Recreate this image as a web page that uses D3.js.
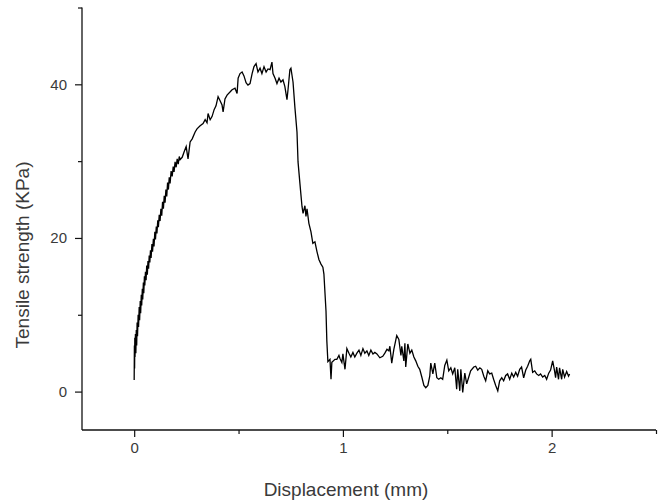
<!DOCTYPE html>
<html>
<head>
<meta charset="utf-8">
<script src="https://cdn.jsdelivr.net/npm/d3@7"></script>
<style>
  body { margin: 0; background: #fff; }
  svg { display: block; }
</style>
</head>
<body>
<svg></svg>
<script>
// displacement (mm) and tensile strength (KPa)
const displacement = [
  0.000, 0.001, 0.002, 0.003, 0.004, 0.006, 0.008, 0.010, 0.012, 0.014,
  0.016, 0.019, 0.021, 0.024, 0.026, 0.029, 0.031, 0.034, 0.036, 0.039,
  0.041, 0.044, 0.046, 0.049, 0.051, 0.054, 0.057, 0.060, 0.063, 0.066,
  0.069, 0.072, 0.075, 0.078, 0.081, 0.085, 0.088, 0.092, 0.095, 0.099,
  0.102, 0.106, 0.109, 0.113, 0.116, 0.120, 0.124, 0.128, 0.132, 0.136,
  0.140, 0.144, 0.148, 0.152, 0.156, 0.160, 0.164, 0.168, 0.172, 0.177,
  0.182, 0.187, 0.191, 0.196, 0.201, 0.206, 0.211, 0.216, 0.220,
  0.230, 0.239, 0.249,
  0.258, 0.268, 0.278, 0.292, 0.301, 0.316, 0.330, 0.340, 0.349, 0.354,
  0.364, 0.373, 0.383, 0.392, 0.402, 0.411, 0.421, 0.426, 0.435, 0.445,
  0.459, 0.469, 0.483, 0.493, 0.498, 0.507, 0.517, 0.526, 0.536, 0.545,
  0.555, 0.565, 0.574, 0.584, 0.593, 0.603, 0.612, 0.622, 0.632, 0.641,
  0.651, 0.660, 0.665, 0.675, 0.684, 0.694, 0.703, 0.713, 0.722, 0.732,
  0.737, 0.746, 0.751, 0.761, 0.770, 0.780, 0.785, 0.794, 0.804, 0.809,
  0.818, 0.823, 0.828, 0.837, 0.847, 0.856, 0.866, 0.876, 0.885, 0.895,
  0.904, 0.909, 0.919, 0.923, 0.928, 0.938, 0.943, 0.947, 0.962, 0.971,
  0.981, 0.986, 0.995, 1.000, 1.010, 1.019, 1.029, 1.038, 1.048, 1.057,
  1.067, 1.077, 1.086, 1.096, 1.105, 1.115, 1.124, 1.134, 1.144, 1.153,
  1.163, 1.177, 1.191, 1.201, 1.211, 1.220, 1.225, 1.234, 1.244, 1.254,
  1.258, 1.268, 1.278, 1.282, 1.292, 1.297, 1.301, 1.311, 1.321, 1.330,
  1.340, 1.349, 1.359, 1.368, 1.378, 1.388, 1.397, 1.407, 1.416, 1.421,
  1.431, 1.440, 1.450, 1.459, 1.469, 1.478, 1.488, 1.498, 1.507, 1.517,
  1.526, 1.536, 1.545, 1.550, 1.560, 1.565, 1.574, 1.584, 1.593, 1.603,
  1.612, 1.627, 1.636, 1.646, 1.656, 1.665, 1.675, 1.684, 1.694, 1.703,
  1.713, 1.722, 1.732, 1.742, 1.751, 1.761, 1.770, 1.780, 1.789, 1.799,
  1.809, 1.818, 1.828, 1.837, 1.847, 1.856, 1.866, 1.876, 1.885, 1.895,
  1.900, 1.909, 1.919, 1.928, 1.938, 1.947, 1.957, 1.967, 1.976, 1.986,
  1.995, 2.005, 2.014, 2.019, 2.024, 2.033, 2.038, 2.048, 2.053, 2.062,
  2.072, 2.081, 2.086
];
const strength = [
  1.5, 6.0, 3.0, 7.0, 4.5, 7.5, 5.0, 8.0, 6.0, 9.0,
  7.2, 10.0, 8.4, 11.0, 9.3, 11.8, 10.2, 12.6, 11.2, 13.4,
  12.0, 14.2, 12.8, 15.0, 13.8, 15.6, 14.5, 16.4, 15.2, 17.0,
  16.0, 17.7, 16.8, 18.4, 17.4, 19.2, 18.2, 19.9, 18.9, 20.8,
  19.8, 21.5, 20.6, 22.3, 21.4, 23.0, 22.2, 23.8, 22.9, 24.7,
  23.8, 25.5, 24.6, 26.3, 25.4, 27.2, 26.3, 27.9, 27.1, 28.7,
  28.0, 29.3, 28.6, 29.9, 29.2, 30.3, 29.6, 30.6, 30.2,
  30.5, 31.2, 31.9,
  30.3, 32.5, 32.9, 33.8, 34.2, 34.6, 34.9, 35.4, 35.0, 36.2,
  35.4, 35.8, 36.7, 37.2, 38.4, 37.9, 37.3, 36.4, 38.1, 38.6,
  39.0, 39.3, 39.5, 38.8, 40.8, 41.4, 41.6, 41.1, 40.2, 39.9,
  40.1, 41.4, 42.3, 42.7, 41.6, 42.1, 41.4, 42.3, 41.6, 42.0,
  41.9, 42.9, 41.4, 40.8, 40.1, 40.8, 40.3, 40.6, 39.7, 38.0,
  39.3, 41.9, 42.1, 40.3, 37.0, 33.8, 29.9, 27.1, 24.1, 23.2,
  24.2, 22.8, 23.8, 21.9, 20.8, 19.3, 19.5, 18.2, 17.2, 16.6,
  16.2, 15.3, 10.5, 6.6, 3.9, 4.2, 1.6, 3.8, 4.2, 4.2,
  4.7, 4.3, 3.8, 4.9, 2.9, 5.6, 5.0, 4.5, 5.1, 4.5,
  5.0, 5.4, 4.7, 5.6, 5.0, 5.3, 4.7, 5.4, 4.9, 5.1,
  4.9, 4.4, 4.6, 5.0, 5.5, 5.3, 5.9, 3.7, 5.5, 6.8,
  7.3, 6.8, 4.7, 5.9, 4.0, 6.3, 3.2, 6.2, 5.0, 5.4,
  4.5, 4.0, 3.3, 2.9, 1.9, 0.8, 0.5, 0.8, 2.0, 3.7,
  2.3, 3.7, 1.8, 1.6, 1.8, 1.6, 3.4, 4.1, 2.7, 3.1,
  2.3, 3.1, 0.3, 2.9, 0.1, 2.9, -0.1, 2.4, 1.0, 1.9,
  2.7, 3.2, 3.3, 2.8, 3.1, 2.9, 2.0, 1.4, 2.7, 2.3,
  2.4, 1.6, 0.8, 0.1, 1.4, 1.8, 1.4, 2.1, 2.3, 1.6,
  2.4, 1.9, 2.5, 2.0, 2.9, 3.2, 1.8, 2.8, 3.3, 4.0,
  4.2, 2.5, 2.7, 2.3, 2.1, 2.3, 1.9, 2.1, 1.6, 2.4,
  2.8, 4.0, 2.7, 1.8, 3.2, 1.6, 3.1, 1.6, 2.9, 1.9,
  2.6, 2.0, 2.3
];

const xMajorTicks = [0, 1, 2];
const xMinorTicks = [0.5, 1.5, 2.5];
const yMajorTicks = [0, 20, 40];
const yMinorTicks = [10, 30, 50];

const xTitle = "Displacement (mm)";
const yTitle = "Tensile strength (KPa)";

function main() {
    const data = displacement.map((d, i) => ({ x: d, y: strength[i] }));
    drawChart(data);
}

function drawChart(data) {
    const canvasWidth = 665;
    const canvasHeight = 501;
    const marginLeft = 82;
    const marginRight = 9;
    const marginTop = 7.5;
    const marginBot = 71;

    const svg = d3.select("svg")
        .attr("width", canvasWidth)
        .attr("height", canvasHeight);

    const xScale = d3.scaleLinear()
        .domain([-0.25, 2.5])
        .range([marginLeft, canvasWidth - marginRight]);
    const yScale = d3.scaleLinear()
        .domain([-5, 50])
        .range([canvasHeight - marginBot, marginTop]);

    const font = "'Liberation Sans', Arial, sans-serif";
    const textColor = "#3a3a3a";

    // x axis: major ticks with labels, then the minor ones
    const xAxis = svg.append("g")
        .attr("transform", `translate(0, ${canvasHeight - marginBot})`)
        .call(d3.axisBottom(xScale).tickValues(xMajorTicks).tickSize(7).tickPadding(5).tickFormat(d3.format("d")));
    svg.append("g")
        .attr("transform", `translate(0, ${canvasHeight - marginBot})`)
        .call(d3.axisBottom(xScale).tickValues(xMinorTicks).tickSize(4).tickFormat(""))
        .select(".domain").remove();

    // y axis
    const yAxis = svg.append("g")
        .attr("transform", `translate(${marginLeft}, 0)`)
        .call(d3.axisLeft(yScale).tickValues(yMajorTicks).tickSize(7).tickPadding(8).tickFormat(d3.format("d")));
    svg.append("g")
        .attr("transform", `translate(${marginLeft}, 0)`)
        .call(d3.axisLeft(yScale).tickValues(yMinorTicks).tickSize(4).tickFormat(""))
        .select(".domain").remove();

    // plain L-shaped axis lines (no end caps)
    xAxis.select(".domain")
        .attr("d", `M${xScale.range()[0]},0H${xScale.range()[1]}`)
        .attr("stroke", "#111").attr("stroke-width", 1.3);
    yAxis.select(".domain")
        .attr("d", `M0,${yScale.range()[0]}V${yScale.range()[1]}`)
        .attr("stroke", "#111").attr("stroke-width", 1.3);

    svg.selectAll(".tick line").attr("stroke", "#111").attr("stroke-width", 1.2);
    svg.selectAll(".tick text")
        .attr("fill", textColor)
        .style("font-family", font)
        .style("font-size", "15px");

    // the curve
    const line = d3.line()
        .x(d => xScale(d.x))
        .y(d => yScale(d.y));

    svg.append("path")
        .datum(data)
        .attr("fill", "none")
        .attr("stroke", "#000")
        .attr("stroke-width", 1.3)
        .attr("stroke-linejoin", "miter")
        .attr("d", line);

    // axis titles
    svg.append("text")
        .text(xTitle)
        .attr("x", 346)
        .attr("y", 496)
        .attr("fill", textColor)
        .style("font-family", font)
        .style("font-size", "19px")
        .style("text-anchor", "middle");

    svg.append("text")
        .text(yTitle)
        .attr("fill", textColor)
        .style("font-family", font)
        .style("font-size", "19px")
        .attr("transform", `translate(29, 255) rotate(-90)`)
        .style("text-anchor", "middle");
}

main();
</script>
</body>
</html>
